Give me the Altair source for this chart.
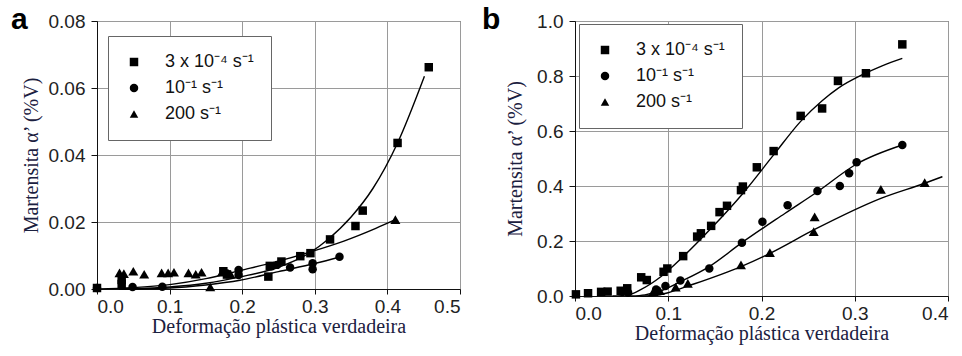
import altair as alt
import pandas as pd

SERIES = ["3 x 10⁻⁴ s⁻¹", "10⁻¹ s⁻¹", "200 s⁻¹"]
SHAPES = ["square", "circle", "triangle-up"]

# ---------------- Panel a: measured points ----------------
a_sq_x = [0.000, 0.034, 0.034, 0.174, 0.179, 0.236, 0.238, 0.254, 0.280, 0.294, 0.321, 0.356, 0.366, 0.414, 0.457]
a_sq_y = [0.0003, 0.0027, 0.0015, 0.0053, 0.0043, 0.0037, 0.0069, 0.0082, 0.0098, 0.0107, 0.0148, 0.0188, 0.0234, 0.0436, 0.0662]
a_ci_x = [0.000, 0.049, 0.090, 0.179, 0.195, 0.195, 0.240, 0.248, 0.266, 0.297, 0.297, 0.334]
a_ci_y = [0.0003, 0.0006, 0.0007, 0.0046, 0.0057, 0.0042, 0.0068, 0.0072, 0.0064, 0.0077, 0.0059, 0.0096]
a_tr_x = [0.031, 0.037, 0.050, 0.065, 0.089, 0.098, 0.106, 0.126, 0.136, 0.144, 0.156, 0.172, 0.184, 0.411]
a_tr_y = [0.0048, 0.0046, 0.0053, 0.0044, 0.0048, 0.0048, 0.0050, 0.0048, 0.0044, 0.0050, 0.0006, 0.0050, 0.0044, 0.0207]

# Panel a: fitted curves
a_sq_fit_x = [0.03, 0.10, 0.15, 0.197, 0.25, 0.293, 0.318, 0.35, 0.38, 0.414, 0.451]
a_sq_fit_y = [0.0, 0.0006, 0.0017, 0.0036, 0.0065, 0.0108, 0.0148, 0.0215, 0.0300, 0.0436, 0.0635]
a_ci_fit_x = [0.03, 0.10, 0.15, 0.197, 0.25, 0.30, 0.337]
a_ci_fit_y = [0.0, 0.0003, 0.0012, 0.0026, 0.0052, 0.0076, 0.0097]
a_tr_fit_x = [0.0, 0.05, 0.10, 0.15, 0.197, 0.25, 0.293, 0.34, 0.384, 0.411]
a_tr_fit_y = [0.0, 0.0004, 0.0013, 0.0031, 0.0055, 0.0083, 0.0110, 0.0143, 0.0181, 0.0207]

# ---------------- Panel b: measured points ----------------
b_sq_x = [0.001, 0.014, 0.028, 0.035, 0.049, 0.056, 0.071, 0.077, 0.095, 0.099, 0.116, 0.131, 0.135,
          0.146, 0.155, 0.163, 0.178, 0.180, 0.195, 0.213, 0.242, 0.265, 0.282, 0.312, 0.351]
b_sq_y = [0.006, 0.010, 0.015, 0.016, 0.019, 0.028, 0.068, 0.058, 0.088, 0.100, 0.145, 0.216, 0.228,
          0.255, 0.305, 0.328, 0.385, 0.398, 0.468, 0.527, 0.655, 0.682, 0.782, 0.810, 0.915]
b_ci_x = [0.057, 0.087, 0.097, 0.113, 0.144, 0.179, 0.201, 0.228, 0.260, 0.284, 0.294, 0.302, 0.351]
b_ci_y = [0.012, 0.024, 0.036, 0.056, 0.100, 0.194, 0.270, 0.330, 0.382, 0.400, 0.446, 0.486, 0.549]
b_tr_x = [0.084, 0.091, 0.108, 0.121, 0.178, 0.209, 0.256, 0.257, 0.328, 0.375]
b_tr_y = [0.016, 0.019, 0.032, 0.046, 0.113, 0.158, 0.234, 0.288, 0.388, 0.412]

# Panel b: fitted curves
b_sq_fit_x = [0.04, 0.057, 0.071, 0.092, 0.116, 0.146, 0.180, 0.213, 0.242, 0.265, 0.282, 0.309, 0.33, 0.351]
b_sq_fit_y = [0.0, 0.004, 0.024, 0.070, 0.143, 0.246, 0.373, 0.513, 0.635, 0.710, 0.755, 0.806, 0.838, 0.864]
b_ci_fit_x = [0.06, 0.075, 0.092, 0.113, 0.144, 0.179, 0.225, 0.26, 0.302, 0.351]
b_ci_fit_y = [0.0, 0.004, 0.019, 0.052, 0.107, 0.194, 0.300, 0.379, 0.480, 0.549]
b_tr_fit_x = [0.07, 0.085, 0.10, 0.121, 0.178, 0.209, 0.257, 0.328, 0.375, 0.394]
b_tr_fit_y = [0.0, 0.002, 0.012, 0.036, 0.107, 0.155, 0.242, 0.355, 0.410, 0.434]

SERIF = "Liberation Serif, Times New Roman, serif"
SANS = "Liberation Sans, Arial, sans-serif"


def make_df(groups):
    rows = []
    for name, xs, ys in groups:
        for xv, yv in zip(xs, ys):
            rows.append({"series": name, "x": xv, "y": yv})
    return pd.DataFrame(rows)


def panel(pts, fits, xdom, xvals, xfmt, ydom, yvals, yfmt, w, h, letter, letter_x,
          leg_x, leg_y, ytitle_pad):
    xs = alt.Scale(domain=xdom, nice=False, zero=False)
    ys = alt.Scale(domain=ydom, nice=False, zero=False)
    xax = alt.Axis(values=xvals, format=xfmt, title="Deformação plástica verdadeira",
                   titleFont=SERIF, titlePadding=0)
    yax = alt.Axis(values=yvals, format=yfmt, title="Martensita α’ (%V)", titleFont=SERIF,
                   titlePadding=ytitle_pad, labelPadding=6, tickSize=6)
    enc_x = alt.X("x:Q", scale=xs, axis=xax)
    enc_y = alt.Y("y:Q", scale=ys, axis=yax)
    legend = alt.Legend(
        title=None, orient="none", legendX=leg_x, legendY=leg_y, direction="vertical",
        labelFont=SANS, labelFontSize=18, labelColor="#111",
        symbolSize=72, symbolFillColor="black", symbolStrokeWidth=0,
        strokeColor="#666", fillColor="white", padding=17, rowPadding=8,
        labelOffset=22,
    )
    shape_enc = alt.Shape("series:N", scale=alt.Scale(domain=SERIES, range=SHAPES), legend=legend)

    fit_layer = alt.Chart(fits).mark_line(color="black", strokeWidth=1.4, interpolate="monotone").encode(
        x=enc_x, y=enc_y, detail="series:N",
    )
    base_pts = alt.Chart(pts).encode(x=enc_x, y=enc_y, shape=shape_enc)
    pts_sc = base_pts.transform_filter(alt.datum.series != SERIES[2]).mark_point(
        filled=True, color="black", size=72, opacity=1)
    pts_tr = base_pts.transform_filter(alt.datum.series == SERIES[2]).mark_point(
        filled=True, color="black", size=100, opacity=1)
    label = alt.Chart(pd.DataFrame({"t": [letter]})).mark_text(
        font=SANS, fontSize=30, fontWeight="bold", align="left",
        baseline="alphabetic", color="black",
    ).encode(x=alt.value(letter_x), y=alt.value(8), text="t:N")
    return alt.layer(fit_layer, pts_sc, pts_tr, label).properties(width=w, height=h)


pts_a = make_df([(SERIES[0], a_sq_x, a_sq_y), (SERIES[1], a_ci_x, a_ci_y), (SERIES[2], a_tr_x, a_tr_y)])
fit_a = make_df([(SERIES[0], a_sq_fit_x, a_sq_fit_y), (SERIES[1], a_ci_fit_x, a_ci_fit_y),
                 (SERIES[2], a_tr_fit_x, a_tr_fit_y)])
pts_b = make_df([(SERIES[0], b_sq_x, b_sq_y), (SERIES[1], b_ci_x, b_ci_y), (SERIES[2], b_tr_x, b_tr_y)])
fit_b = make_df([(SERIES[0], b_sq_fit_x, b_sq_fit_y), (SERIES[1], b_ci_fit_x, b_ci_fit_y),
                 (SERIES[2], b_tr_fit_x, b_tr_fit_y)])

chart_a = panel(pts_a, fit_a, [0, 0.5], [0.0, 0.1, 0.2, 0.3, 0.4, 0.5], ".1f",
                [0, 0.08], [0.0, 0.02, 0.04, 0.06, 0.08], ".2f", 363, 268, "a", -86, 11, 15, 7)
chart_b = panel(pts_b, fit_b, [0, 0.4], [0.0, 0.1, 0.2, 0.3, 0.4], ".1f",
                [0, 1.0], [0.0, 0.2, 0.4, 0.6, 0.8, 1.0], ".1f", 373, 275, "b", -93, 4, 3, 11)

chart = alt.hconcat(chart_a, chart_b, spacing=115, bounds="flush").resolve_scale(
    shape="independent"
).resolve_legend(shape="independent").properties(
    padding={"left": 10, "top": 4, "right": 5, "bottom": 5}
).configure_view(
    stroke="#444", strokeWidth=1
).configure_axis(
    domainColor="#111", tickColor="#111", tickSize=5, gridColor="#9a9a9a", gridWidth=1,
    labelFont=SANS, labelFontSize=19, labelColor="#222", labelPadding=3,
    titleFont=SERIF, titleFontSize=20, titleFontWeight="normal", titleColor="#1b2040",
)

chart.save("out.html", embed_options={"renderer": "svg", "actions": False})
